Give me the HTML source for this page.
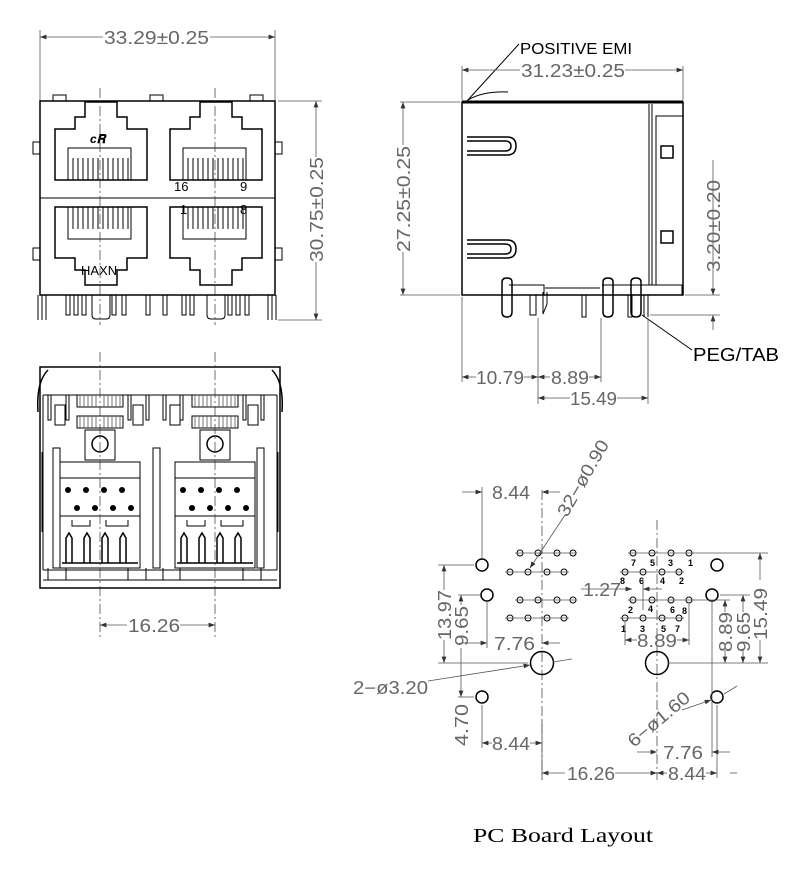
<!DOCTYPE html>
<html><head><meta charset="utf-8"><style>
html,body{margin:0;padding:0;background:#fff;}
svg{display:block;}
.d{font-family:"Liberation Sans",sans-serif;fill:#666;font-size:18px;}
.k{stroke:#000;fill:none;stroke-width:1.5;}
.t{stroke:#000;fill:none;stroke-width:1;}
.g{stroke:#555;fill:none;stroke-width:0.8;}
.c{stroke:#333;fill:none;stroke-width:0.7;stroke-dasharray:10,3,2,3;}
.p{font-family:"Liberation Sans",sans-serif;font-size:9px;font-weight:bold;fill:#000;}
</style></head><body>
<svg width="800" height="870" viewBox="0 0 800 870" xmlns="http://www.w3.org/2000/svg">
<defs><marker id="a" markerWidth="8" markerHeight="6" refX="8" refY="3" orient="auto-start-reverse"><path d="M0,0 L8,3 L0,6z" fill="#333"/></marker></defs>

<!-- FRONT VIEW -->
<g>
<line class="g" x1="40" y1="30" x2="40" y2="101"/><line class="g" x1="275" y1="30" x2="275" y2="101"/>
<line class="g" x1="40" y1="37" x2="103" y2="37" marker-start="url(#a)"/><line class="g" x1="210" y1="37" x2="275" y2="37" marker-end="url(#a)"/>
<text class="d" x="104" y="44" textLength="105" lengthAdjust="spacingAndGlyphs">33.29±0.25</text>
<rect class="k" x="40" y="101" width="235" height="194"/>
<line class="t" x1="40" y1="198" x2="275" y2="198"/>
<path class="t" d="M53,101v-6h13v6M150,101v-6h13v6M250,101v-6h13v6"/>
<path class="t" d="M40,142h-7v12h7M40,248h-7v12h7M275,142h7v12h-7M275,248h7v12h-7"/>
<path class="k" stroke-width="2" d="M55,180V129h20v-12h10v-15h32v15h10v12h20v51z"/>
<path class="k" stroke-width="2" d="M170,180V129h20v-12h10v-15h32v15h10v12h20v51z"/>
<path class="k" stroke-width="2" d="M55,207v51h20v12h10v15h32v-15h10v-12h20v-51z"/>
<path class="k" stroke-width="2" d="M170,207v51h20v12h10v15h32v-15h10v-12h20v-51z"/>
<rect class="t" x="68" y="148" width="63" height="32"/><rect class="t" x="183" y="148" width="63" height="32"/>
<rect class="t" x="68" y="207" width="63" height="32"/><rect class="t" x="183" y="207" width="63" height="32"/>
<path class="t" d="M73,158v22M78,158v22M83,158v22M88,158v22M93,158v22M98,158v22M103,158v22M108,158v22M113,158v22M118,158v22M123,158v22M128,158v22M188,158v22M193,158v22M198,158v22M203,158v22M208,158v22M213,158v22M218,158v22M223,158v22M228,158v22M233,158v22M238,158v22M243,158v22M73,207v22M78,207v22M83,207v22M88,207v22M93,207v22M98,207v22M103,207v22M108,207v22M113,207v22M118,207v22M123,207v22M128,207v22M188,207v22M193,207v22M198,207v22M203,207v22M208,207v22M213,207v22M218,207v22M223,207v22M228,207v22M233,207v22M238,207v22M243,207v22"/>
<text x="90" y="143" font-family="Liberation Sans" font-size="12" font-style="italic" font-weight="bold">ᴄ𝐑</text>
<text x="174" y="191" font-family="Liberation Sans" font-size="13">16</text>
<text x="240" y="191" font-family="Liberation Sans" font-size="13">9</text>
<text x="180" y="214" font-family="Liberation Sans" font-size="13">1</text>
<text x="240" y="214" font-family="Liberation Sans" font-size="13">8</text>
<text x="81" y="275" font-family="Liberation Sans" font-size="13">HAXN</text>
<path class="t" d="M38,295v25M42,295v25M46,295v25M66,295v20h4v-20M74,295v20h4v-20M82,295v20h4v-20M112,295v20h4v-20M122,295v20h4v-20M146,295v20h4v-20M163,295v20h4v-20M182,295v20h4v-20M190,295v20h4v-20M228,295v20h4v-20M236,295v20h4v-20M245,295v20h4v-20M268,295v25M272,295v25M276,295v25"/>
<path class="t" d="M92,295v20q0,4 4,4h10q4,0 4,-4v-20M207,295v20q0,4 4,4h10q4,0 4,-4v-20"/>
<line class="c" x1="100" y1="88" x2="100" y2="325"/><line class="c" x1="215" y1="88" x2="215" y2="325"/>
<line class="g" x1="278" y1="101" x2="322" y2="101"/><line class="g" x1="278" y1="320" x2="322" y2="320"/>
<line class="g" x1="316" y1="101" x2="316" y2="157" marker-start="url(#a)"/><line class="g" x1="316" y1="262" x2="316" y2="320" marker-end="url(#a)"/>
<text class="d" transform="translate(323,262) rotate(-90)" textLength="105" lengthAdjust="spacingAndGlyphs">30.75±0.25</text>
</g>

<!-- SIDE VIEW -->
<g>
<text x="520" y="54" font-family="Liberation Sans" font-size="16" fill="#000" textLength="112" lengthAdjust="spacingAndGlyphs">POSITIVE  EMI</text>
<line class="t" x1="519" y1="44" x2="467" y2="101"/>
<path class="t" d="M468,100q15,-9 40,-8"/>
<line class="g" x1="462" y1="66" x2="462" y2="100"/><line class="g" x1="683" y1="66" x2="683" y2="100"/>
<line class="g" x1="462" y1="70" x2="520" y2="70" marker-start="url(#a)"/><line class="g" x1="625" y1="70" x2="683" y2="70" marker-end="url(#a)"/>
<text class="d" x="521" y="77" textLength="104" lengthAdjust="spacingAndGlyphs">31.23±0.25</text>
<rect class="k" x="462" y="102" width="221" height="193"/>
<line x1="462" y1="102" x2="683" y2="102" stroke="#000" stroke-width="3"/>
<line class="t" x1="649" y1="104" x2="649" y2="285"/><line class="t" x1="652" y1="104" x2="652" y2="285"/>
<path class="t" d="M683,116h-27v169h27"/>
<rect class="k" x="661" y="146" width="12" height="12"/><rect class="k" x="661" y="231" width="12" height="12"/>
<path class="k" d="M467,137h40q9,0 9,9q0,9-9,9h-40M467,141h38q6,0 6,5q0,5-6,5h-38"/>
<path class="k" d="M467,240h40q9,0 9,9q0,9-9,9h-40M467,244h38q6,0 6,5q0,5-6,5h-38"/>
<path class="t" d="M509,285h35v10M602,285h80v10M545,288h55"/>
<path class="k" d="M502,282v30q0,5 5,5t5,-5v-30q0,-4-5,-4t-5,4z"/>
<path class="k" d="M603,282v30q0,5 5,5t5,-5v-30q0,-4-5,-4t-5,4z"/>
<path class="k" d="M631,282v30q0,5 5,5t5,-5v-30q0,-4-5,-4t-5,4z"/>
<path class="t" d="M530,295v20h6v-20M543,292v22l4,-10v-12M582,295v22h4v-22M628,295v22h4v-22M644,295v22M648,295v22"/>
<line class="g" x1="685" y1="295" x2="720" y2="295"/><line class="g" x1="650" y1="315" x2="720" y2="315"/>
<line class="g" x1="713" y1="160" x2="713" y2="295" marker-end="url(#a)"/><line class="g" x1="713" y1="315" x2="713" y2="330" marker-start="url(#a)"/>
<text class="d" transform="translate(720,272) rotate(-90)" textLength="92" lengthAdjust="spacingAndGlyphs">3.20±0.20</text>
<line class="t" x1="642" y1="315" x2="692" y2="350"/>
<text x="693" y="361" font-family="Liberation Sans" font-size="18" fill="#000" textLength="86" lengthAdjust="spacingAndGlyphs">PEG/TAB</text>
<line class="g" x1="400" y1="102" x2="460" y2="102"/><line class="g" x1="400" y1="295" x2="460" y2="295"/>
<line class="g" x1="403" y1="102" x2="403" y2="145" marker-start="url(#a)"/><line class="g" x1="403" y1="252" x2="403" y2="295" marker-end="url(#a)"/>
<text class="d" transform="translate(410,252) rotate(-90)" textLength="106" lengthAdjust="spacingAndGlyphs">27.25±0.25</text>
<line class="g" x1="462" y1="297" x2="462" y2="382"/><line class="g" x1="538" y1="318" x2="538" y2="404"/>
<line class="g" x1="601" y1="318" x2="601" y2="382"/><line class="g" x1="648" y1="318" x2="648" y2="404"/>
<line class="g" x1="462" y1="377" x2="476" y2="377" marker-start="url(#a)"/><line class="g" x1="524" y1="377" x2="538" y2="377" marker-end="url(#a)"/>
<text class="d" x="476" y="384" textLength="48" lengthAdjust="spacingAndGlyphs">10.79</text>
<line class="g" x1="538" y1="377" x2="550" y2="377" marker-start="url(#a)"/><line class="g" x1="589" y1="377" x2="601" y2="377" marker-end="url(#a)"/>
<text class="d" x="551" y="384" textLength="38" lengthAdjust="spacingAndGlyphs">8.89</text>
<line class="g" x1="538" y1="398" x2="570" y2="398" marker-start="url(#a)"/><line class="g" x1="617" y1="398" x2="648" y2="398" marker-end="url(#a)"/>
<text class="d" x="570" y="405" textLength="47" lengthAdjust="spacingAndGlyphs">15.49</text>
</g>

<!-- BOTTOM VIEW -->
<g>
<rect class="k" x="40" y="367" width="240" height="221"/>
<line class="t" x1="43" y1="395" x2="277" y2="395"/>
<path class="k" d="M38,412q-2,-30 10,-42M282,412q2,-30 -10,-42"/>
<path class="t" d="M43,395v175M277,395v175M43,570h234M43,580h234"/>
<path class="t" d="M48,395v25h3v-25M66,395v25h3v-25M128,395v25h3v-25M146,395v25h3v-25M163,395v25h3v-25M180,395v25h3v-25M243,395v25h3v-25M261,395v25h3v-25"/>
<path class="t" d="M55,405h10v20h-10zM133,405h10v20h-10zM170,405h10v20h-10zM248,405h10v20h-10z"/>
<rect class="t" x="77" y="395" width="46" height="12"/><rect class="t" x="77" y="416" width="46" height="12"/>
<rect class="t" x="192" y="395" width="46" height="12"/><rect class="t" x="192" y="416" width="46" height="12"/>
<path class="g" d="M80,395v12M84,395v12M88,395v12M92,395v12M96,395v12M104,395v12M108,395v12M112,395v12M116,395v12M120,395v12M80,416v12M84,416v12M88,416v12M92,416v12M96,416v12M104,416v12M108,416v12M112,416v12M116,416v12M120,416v12M195,395v12M199,395v12M203,395v12M207,395v12M211,395v12M219,395v12M223,395v12M227,395v12M231,395v12M235,395v12M195,416v12M199,416v12M203,416v12M207,416v12M211,416v12M219,416v12M223,416v12M227,416v12M231,416v12M235,416v12"/>
<rect class="t" x="85" y="430" width="30" height="30"/><rect class="t" x="200" y="430" width="30" height="30"/>
<circle class="k" cx="100" cy="444" r="8"/><circle class="k" cx="215" cy="444" r="8"/>
<path class="t" d="M53,448v120h7v-120zM153,448v120h7v-120zM257,448v120h7v-120zM42,452v80M278,452v80"/>
<rect class="t" x="60" y="462" width="80" height="106"/><rect class="t" x="175" y="462" width="80" height="106"/>
<rect class="t" x="60" y="478" width="80" height="38"/><rect class="t" x="175" y="478" width="80" height="38"/>
<g fill="#000">
<circle cx="68" cy="490" r="3"/><circle cx="86" cy="490" r="3"/><circle cx="104" cy="490" r="3"/><circle cx="122" cy="490" r="3"/>
<circle cx="77" cy="508" r="3"/><circle cx="95" cy="508" r="3"/><circle cx="113" cy="508" r="3"/><circle cx="131" cy="508" r="3"/>
<circle cx="183" cy="490" r="3"/><circle cx="201" cy="490" r="3"/><circle cx="219" cy="490" r="3"/><circle cx="237" cy="490" r="3"/>
<circle cx="192" cy="508" r="3"/><circle cx="210" cy="508" r="3"/><circle cx="228" cy="508" r="3"/><circle cx="246" cy="508" r="3"/>
</g>
<path class="t" d="M72,520v6h18v-6M106,520v6h22v-6M187,520v6h18v-6M221,520v6h22v-6"/>
<path class="k" d="M62,563h76M66,563v-25l3,-5l3,5v25M84,563v-25l3,-5l3,5v25M102,563v-25l3,-5l3,5v25M120,563v-25l3,-5l3,5v25M177,563h76M181,563v-25l3,-5l3,5v25M199,563v-25l3,-5l3,5v25M217,563v-25l3,-5l3,5v25M235,563v-25l3,-5l3,5v25"/>
<path class="t" d="M48,568v12M66,568v12M128,568v12M146,568v12M163,568v12M180,568v12M243,568v12M261,568v12"/>
<line class="c" x1="100" y1="352" x2="100" y2="640"/><line class="c" x1="215" y1="352" x2="215" y2="640"/>
<line class="g" x1="100" y1="625" x2="127" y2="625" marker-start="url(#a)"/><line class="g" x1="180" y1="625" x2="215" y2="625" marker-end="url(#a)"/>
<text class="d" x="128" y="632" textLength="52" lengthAdjust="spacingAndGlyphs">16.26</text>
</g>

<!-- PCB LAYOUT -->
<g>
<line class="c" x1="542" y1="490" x2="542" y2="780"/><line class="c" x1="657" y1="520" x2="657" y2="780"/>
<circle class="k" cx="542" cy="663" r="11.5"/><circle class="k" cx="657" cy="663" r="11.5"/>
<g class="k" stroke-width="1.3">
<circle cx="482" cy="565" r="6"/><circle cx="487" cy="595" r="6"/><circle cx="482" cy="697" r="6"/>
<circle cx="717" cy="565" r="6"/><circle cx="712" cy="595" r="6"/><circle cx="717" cy="697" r="6"/>
</g>
<g class="t">
<circle cx="520" cy="553" r="3"/><circle cx="538" cy="553" r="3"/><circle cx="557" cy="553" r="3"/><circle cx="573" cy="553" r="3"/>
<circle cx="510" cy="572" r="3"/><circle cx="528" cy="572" r="3"/><circle cx="547" cy="572" r="3"/><circle cx="564" cy="572" r="3"/>
<circle cx="520" cy="600" r="3"/><circle cx="538" cy="600" r="3"/><circle cx="557" cy="600" r="3"/><circle cx="573" cy="600" r="3"/>
<circle cx="510" cy="618" r="3"/><circle cx="528" cy="618" r="3"/><circle cx="547" cy="618" r="3"/><circle cx="564" cy="618" r="3"/>
<circle cx="633" cy="553" r="3"/><circle cx="652" cy="553" r="3"/><circle cx="671" cy="553" r="3"/><circle cx="689" cy="553" r="3"/>
<circle cx="625" cy="572" r="3"/><circle cx="643" cy="572" r="3"/><circle cx="662" cy="572" r="3"/><circle cx="679" cy="572" r="3"/>
<circle cx="633" cy="600" r="3"/><circle cx="652" cy="600" r="3"/><circle cx="671" cy="600" r="3"/><circle cx="689" cy="600" r="3"/>
<circle cx="625" cy="618" r="3"/><circle cx="643" cy="618" r="3"/><circle cx="662" cy="618" r="3"/><circle cx="679" cy="618" r="3"/>
</g>
<path class="g" d="M515,553h62M505,572h64M515,600h62M505,618h64M628,553h66M620,572h64M628,600h66M620,618h64"/>
<text class="p" x="631" y="566">7</text><text class="p" x="650" y="566">5</text><text class="p" x="668" y="566">3</text><text class="p" x="688" y="566">1</text>
<text class="p" x="620" y="584">8</text><text class="p" x="639" y="584">6</text><text class="p" x="660" y="584">4</text><text class="p" x="679" y="584">2</text>
<text class="p" x="628" y="613">2</text><text class="p" x="648" y="612">4</text><text class="p" x="670" y="613">6</text><text class="p" x="682" y="614">8</text>
<text class="p" x="621" y="632">1</text><text class="p" x="640" y="632">3</text><text class="p" x="661" y="632">5</text><text class="p" x="675" y="632">7</text>
<line class="g" x1="482" y1="487" x2="482" y2="558"/>
<line class="g" x1="462" y1="492" x2="482" y2="492" marker-end="url(#a)"/><line class="g" x1="542" y1="492" x2="560" y2="492" marker-start="url(#a)"/>
<text class="d" x="492" y="499" textLength="38" lengthAdjust="spacingAndGlyphs">8.44</text>
<text class="d" transform="translate(567,518) rotate(-60)" textLength="85" lengthAdjust="spacingAndGlyphs">32−ø0.90</text>
<line class="g" x1="565" y1="515" x2="530" y2="568" marker-end="url(#a)"/>
<line class="g" x1="438" y1="565" x2="474" y2="565"/><line class="g" x1="438" y1="663" x2="528" y2="663"/>
<line class="g" x1="444" y1="565" x2="444" y2="590" marker-start="url(#a)"/><line class="g" x1="444" y1="640" x2="444" y2="663" marker-end="url(#a)"/>
<text class="d" transform="translate(451,640) rotate(-90)" textLength="50" lengthAdjust="spacingAndGlyphs">13.97</text>
<line class="g" x1="458" y1="595" x2="480" y2="595"/>
<line class="g" x1="461" y1="595" x2="461" y2="605" marker-start="url(#a)"/><line class="g" x1="461" y1="648" x2="461" y2="663"/>
<text class="d" transform="translate(468,646) rotate(-90)" textLength="40" lengthAdjust="spacingAndGlyphs">9.65</text>
<line class="g" x1="487" y1="600" x2="487" y2="648"/>
<line class="g" x1="462" y1="643" x2="487" y2="643" marker-end="url(#a)"/><line class="g" x1="542" y1="643" x2="560" y2="643" marker-start="url(#a)"/>
<text class="d" x="494" y="650" textLength="41" lengthAdjust="spacingAndGlyphs">7.76</text>
<text class="d" x="353" y="694" textLength="75" lengthAdjust="spacingAndGlyphs">2−ø3.20</text>
<line class="g" x1="428" y1="681" x2="530" y2="665" marker-end="url(#a)"/><line class="g" x1="553" y1="662" x2="572" y2="659"/>
<line class="g" x1="458" y1="697" x2="474" y2="697"/>
<line class="g" x1="461" y1="663" x2="461" y2="697" marker-end="url(#a)"/>
<text class="d" transform="translate(468,746) rotate(-90)" textLength="42" lengthAdjust="spacingAndGlyphs">4.70</text>
<line class="g" x1="482" y1="705" x2="482" y2="748"/><line class="g" x1="542" y1="720" x2="542" y2="780"/>
<line class="g" x1="482" y1="743" x2="492" y2="743" marker-start="url(#a)"/><line class="g" x1="530" y1="743" x2="542" y2="743" marker-end="url(#a)"/>
<text class="d" x="492" y="750" textLength="38" lengthAdjust="spacingAndGlyphs">8.44</text>
<line class="g" x1="542" y1="773" x2="565" y2="773" marker-start="url(#a)"/><line class="g" x1="615" y1="773" x2="657" y2="773" marker-end="url(#a)"/>
<text class="d" x="567" y="780" textLength="48" lengthAdjust="spacingAndGlyphs">16.26</text>
<line class="g" x1="657" y1="773" x2="667" y2="773" marker-start="url(#a)"/><line class="g" x1="706" y1="773" x2="717" y2="773" marker-end="url(#a)"/>
<text class="d" x="668" y="780" textLength="38" lengthAdjust="spacingAndGlyphs">8.44</text>
<line class="g" x1="730" y1="773" x2="737" y2="773"/>
<line class="g" x1="717" y1="705" x2="717" y2="778"/><line class="g" x1="712" y1="600" x2="712" y2="757"/>
<line class="g" x1="637" y1="752" x2="657" y2="752" marker-end="url(#a)"/><line class="g" x1="712" y1="752" x2="730" y2="752" marker-start="url(#a)"/>
<text class="d" x="663" y="759" textLength="40" lengthAdjust="spacingAndGlyphs">7.76</text>
<text class="d" transform="translate(634,748) rotate(-40)" textLength="75" lengthAdjust="spacingAndGlyphs">6−ø1.60</text>
<line class="g" x1="682" y1="710" x2="711" y2="700" marker-end="url(#a)"/><line class="g" x1="724" y1="694" x2="737" y2="686"/>
<line class="g" x1="581" y1="589" x2="632" y2="589" marker-end="url(#a)"/><line class="g" x1="643" y1="589" x2="662" y2="589" marker-start="url(#a)"/>
<text class="d" x="583" y="596" textLength="38" lengthAdjust="spacingAndGlyphs">1.27</text>
<line class="g" x1="643" y1="578" x2="643" y2="610"/>
<line class="g" x1="625" y1="622" x2="625" y2="645"/><line class="g" x1="689" y1="604" x2="689" y2="645"/>
<line class="g" x1="625" y1="640" x2="637" y2="640" marker-start="url(#a)"/><line class="g" x1="677" y1="640" x2="689" y2="640" marker-end="url(#a)"/>
<text class="d" x="637" y="647" textLength="40" lengthAdjust="spacingAndGlyphs">8.89</text>
<line class="g" x1="693" y1="553" x2="768" y2="553"/><line class="g" x1="720" y1="595" x2="750" y2="595"/>
<line class="g" x1="668" y1="663" x2="768" y2="663"/><line class="g" x1="693" y1="600" x2="730" y2="600"/>
<line class="g" x1="725" y1="600" x2="725" y2="612" marker-start="url(#a)"/><line class="g" x1="725" y1="650" x2="725" y2="663" marker-end="url(#a)"/>
<text class="d" transform="translate(732,652) rotate(-90)" textLength="40" lengthAdjust="spacingAndGlyphs">8.89</text>
<line class="g" x1="743" y1="595" x2="743" y2="612" marker-start="url(#a)"/><line class="g" x1="743" y1="650" x2="743" y2="663" marker-end="url(#a)"/>
<text class="d" transform="translate(750,652) rotate(-90)" textLength="40" lengthAdjust="spacingAndGlyphs">9.65</text>
<line class="g" x1="760" y1="553" x2="760" y2="580" marker-start="url(#a)"/><line class="g" x1="760" y1="640" x2="760" y2="663" marker-end="url(#a)"/>
<text class="d" transform="translate(767,640) rotate(-90)" textLength="52" lengthAdjust="spacingAndGlyphs">15.49</text>
</g>

<text x="473" y="842" font-family="Liberation Serif,serif" font-size="20" fill="#000" textLength="180" lengthAdjust="spacingAndGlyphs">PC Board Layout</text>
</svg>
</body></html>
